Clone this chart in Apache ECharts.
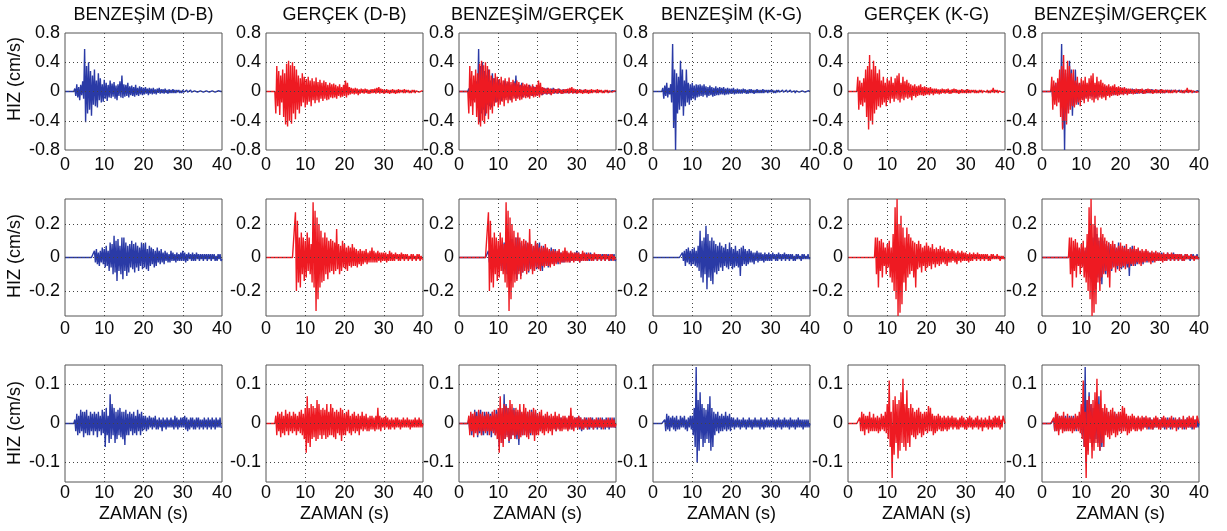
<!DOCTYPE html>
<html>
<head>
<meta charset="utf-8">
<script src="https://cdn.jsdelivr.net/npm/echarts@6/dist/echarts.min.js"></script>
<style>
  html, body { margin: 0; padding: 0; background: #fff; }
  #chart { width: 1227px; height: 531px; }
</style>
</head>
<body>
<div id="chart"></div>
<script>
// Velocity records (cm/s), one sample every 0.25 s from 0 to 40 s.
const DT = 0.25;

// Row 1
const SIM_DB_1 = [
  0,0,0,0,0,0,0,0,0,0,
  0.04,-0.06,0.1,-0.08,0.06,-0.12,0.09,-0.05,0.14,-0.1,
  0.58,-0.42,0.35,-0.3,0.4,-0.25,0.28,-0.33,0.22,-0.18,
  0.3,-0.2,0.15,-0.22,0.25,-0.12,0.18,-0.15,0.1,-0.14,
  0.16,-0.1,0.12,-0.13,0.09,-0.08,0.15,-0.09,0.11,-0.07,
  0.13,-0.1,0.08,-0.12,0.1,-0.06,0.14,-0.08,0.22,-0.09,
  0.1,-0.07,0.09,-0.06,0.12,-0.08,0.07,-0.05,0.08,-0.06,
  0.06,-0.07,0.09,-0.05,0.05,-0.06,0.07,-0.04,0.06,-0.05,
  0.05,-0.04,0.06,-0.03,0.04,-0.05,0.05,-0.03,0.04,-0.04,
  0.05,-0.03,0.03,-0.04,0.04,-0.02,0.05,-0.03,0.03,-0.02,
  0.03,-0.03,0.04,-0.02,0.02,-0.03,0.03,-0.02,0.02,-0.02,
  0.03,-0.02,0.02,-0.02,0.02,-0.01,0.02,-0.02,0.01,-0.02,
  0.02,-0.01,0.01,-0.02,0.02,-0.01,0.01,-0.01,0.02,-0.01,
  0.01,-0.02,0.01,-0.01,0.02,-0.01,0.01,-0.01,0.01,-0.01,
  0.02,-0.01,0.01,-0.02,0.01,-0.01,0.02,-0.01,0.01,-0.01,
  0.01,-0.01,0.02,-0.01,0.01,-0.01,0.01,-0.01,0.01,0,0
];
const OBS_DB_1 = [
  0,0,0,0,0,0,0,0,0,0,
  -0.3,0.35,-0.2,0.28,-0.32,0.22,-0.15,0.3,-0.35,0.25,
  -0.45,0.38,-0.48,0.42,-0.4,0.36,-0.44,0.4,-0.3,0.35,
  -0.38,0.3,-0.25,0.22,-0.3,0.18,-0.2,0.25,-0.15,0.2,
  -0.22,0.17,-0.18,0.2,-0.14,0.15,-0.2,0.18,-0.12,0.14,
  -0.16,0.19,-0.12,0.13,-0.15,0.16,-0.1,0.12,-0.13,0.15,
  -0.1,0.13,-0.12,0.09,-0.11,0.12,-0.08,0.1,-0.09,0.11,
  -0.08,0.09,-0.1,0.07,-0.06,0.1,-0.08,0.06,-0.07,0.09,
  -0.06,0.15,-0.08,0.12,-0.05,0.06,-0.04,0.05,-0.03,0.04,
  -0.04,0.05,-0.03,0.04,-0.05,0.03,-0.03,0.04,-0.02,0.03,
  -0.03,0.04,-0.02,0.03,-0.03,0.02,-0.03,0.03,-0.02,0.03,
  -0.02,0.04,-0.03,0.05,-0.02,0.06,-0.03,0.04,-0.02,0.03,
  -0.03,0.02,-0.02,0.03,-0.02,0.02,-0.03,0.02,-0.02,0.03,
  -0.02,0.02,-0.03,0.02,-0.02,0.03,-0.02,0.02,-0.01,0.02,
  -0.02,0.03,-0.02,0.02,-0.01,0.02,-0.02,0.01,-0.02,0.02,
  -0.01,0.02,-0.02,0.01,-0.01,0.02,-0.01,0.01,-0.02,0.01,0
];
const SIM_KG_1 = [
  0,0,0,0,0,0,0,0,0,0,
  0.05,-0.1,0.08,-0.06,0.12,-0.08,0.05,-0.04,0.1,-0.15,
  0.65,-0.5,0.3,-0.8,0.25,-0.3,0.2,-0.25,0.42,-0.2,
  0.3,-0.33,0.15,-0.2,0.3,-0.15,0.12,-0.18,0.1,-0.12,
  0.12,-0.1,0.08,-0.12,0.1,-0.08,0.09,-0.07,0.1,-0.06,
  0.08,-0.07,0.1,-0.05,0.07,-0.08,0.06,-0.06,0.08,-0.05,
  0.06,-0.07,0.05,-0.06,0.07,-0.05,0.05,-0.05,0.06,-0.04,
  0.05,-0.04,0.06,-0.05,0.04,-0.04,0.05,-0.04,0.04,-0.03,
  0.04,-0.03,0.05,-0.04,0.03,-0.03,0.04,-0.03,0.03,-0.03,
  0.03,-0.03,0.04,-0.02,0.03,-0.03,0.02,-0.03,0.03,-0.02,
  0.03,-0.02,0.02,-0.03,0.02,-0.02,0.03,-0.02,0.02,-0.02,
  0.02,-0.02,0.03,-0.02,0.02,-0.01,0.02,-0.02,0.02,-0.01,
  0.02,-0.01,0.02,-0.02,0.01,-0.02,0.02,-0.01,0.02,-0.01,
  0.01,-0.02,0.02,-0.01,0.01,-0.01,0.02,-0.01,0.01,-0.01,
  0.02,-0.01,0.01,-0.01,0.01,-0.02,0.01,-0.01,0.01,-0.01,
  0.01,-0.01,0.01,-0.01,0.01,-0.01,0.01,-0.01,0.01,-0.01,0
];
const OBS_KG_1 = [
  0,0,0,0,0,0,0,0,0,0,
  0.2,-0.25,0.15,-0.18,0.12,-0.2,0.18,-0.15,0.3,-0.35,
  0.35,-0.52,0.5,-0.4,0.3,-0.45,0.42,-0.3,0.35,-0.25,
  0.25,-0.2,0.3,-0.22,0.15,-0.18,0.2,-0.15,0.12,-0.2,
  0.18,-0.12,0.15,-0.16,0.2,-0.1,0.12,-0.14,0.18,-0.1,
  0.22,-0.12,0.25,-0.15,0.12,-0.1,0.2,-0.12,0.14,-0.08,
  0.16,-0.1,0.12,-0.08,0.1,-0.12,0.08,-0.06,0.1,-0.08,
  0.07,-0.06,0.08,-0.05,0.1,-0.05,0.06,-0.06,0.07,-0.05,
  0.06,-0.04,0.05,-0.05,0.06,-0.03,0.04,-0.05,0.04,-0.03,
  0.04,-0.03,0.03,-0.04,0.03,-0.03,0.04,-0.02,0.03,-0.03,
  0.03,-0.02,0.04,-0.03,0.02,-0.03,0.03,-0.02,0.04,-0.02,
  0.03,-0.02,0.02,-0.03,0.02,-0.02,0.03,-0.02,0.02,-0.02,
  0.02,-0.02,0.03,-0.02,0.02,-0.02,0.02,-0.01,0.02,-0.02,
  0.02,-0.02,0.01,-0.02,0.02,-0.01,0.02,-0.02,0.01,-0.01,
  0.02,-0.01,0.02,-0.02,0.01,-0.02,0.02,-0.01,0.05,-0.02,
  0.02,-0.01,0.02,-0.02,0.01,-0.01,0.02,-0.01,0.01,-0.01,0
];

// Row 2
const SIM_DB_2 = [
  0,0,0,0,0,0,0,0,0,0,
  0,0,0,0,0,0,0,0,0,0,
  0,0,0,0,0,0,0,0,0,0,
  0.04,-0.03,0.05,-0.04,0.03,-0.05,0.04,-0.03,0.06,-0.04,
  0.05,-0.06,0.07,-0.05,0.04,-0.08,0.09,-0.06,0.08,-0.1,
  0.13,-0.09,0.1,-0.14,0.11,-0.08,0.07,-0.1,0.12,-0.13,
  0.12,-0.08,0.09,-0.11,0.07,-0.09,0.08,-0.06,0.1,-0.07,
  0.08,-0.09,0.09,-0.06,0.07,-0.08,0.06,-0.05,0.09,-0.07,
  0.08,-0.06,0.09,-0.07,0.05,-0.08,0.07,-0.05,0.06,-0.04,
  0.05,-0.06,0.04,-0.05,0.06,-0.03,0.04,-0.04,0.05,-0.03,
  0.03,-0.04,0.04,-0.02,0.03,-0.03,0.02,-0.03,0.04,-0.02,
  0.03,-0.02,0.02,-0.03,0.03,-0.02,0.02,-0.02,0.03,-0.02,
  0.04,-0.02,0.03,-0.03,0.02,-0.02,0.03,-0.01,0.02,-0.02,
  0.03,-0.02,0.02,-0.02,0.03,-0.01,0.02,-0.02,0.02,-0.01,
  0.02,-0.02,0.02,-0.01,0.02,-0.02,0.02,-0.01,0.02,-0.02,
  0.02,-0.01,0.02,-0.02,0.01,-0.02,0.02,-0.01,0.02,-0.02,-0.01
];
const OBS_DB_2 = [
  0,0,0,0,0,0,0,0,0,0,
  0,0,0,0,0,0,0,0,0,0,
  0,0,0,0,0,0,0,0,0,0,
  0.27,-0.2,0.22,-0.15,0.12,-0.18,0.15,-0.1,0.12,-0.14,
  0.1,-0.12,0.15,-0.08,0.12,-0.1,0.08,-0.15,0.33,-0.18,
  0.28,-0.32,0.24,-0.25,0.2,-0.18,0.16,-0.15,0.12,-0.14,
  0.15,-0.1,0.12,-0.13,0.1,-0.09,0.11,-0.08,0.1,-0.1,
  0.09,-0.08,0.17,-0.07,0.08,-0.1,0.07,-0.08,0.1,-0.06,
  0.08,-0.07,0.06,-0.08,0.07,-0.05,0.06,-0.06,0.08,-0.05,
  0.06,-0.05,0.05,-0.06,0.04,-0.04,0.05,-0.05,0.04,-0.04,
  0.04,-0.03,0.05,-0.04,0.03,-0.03,0.04,-0.03,0.06,-0.03,
  0.04,-0.03,0.03,-0.03,0.04,-0.02,0.03,-0.03,0.03,-0.02,
  0.03,-0.02,0.03,-0.03,0.02,-0.02,0.04,-0.02,0.03,-0.02,
  0.02,-0.02,0.03,-0.01,0.02,-0.02,0.02,-0.02,0.03,-0.01,
  0.02,-0.02,0.02,-0.01,0.02,-0.02,0.01,-0.01,0.02,-0.02,
  0.02,-0.01,0.01,-0.02,0.02,-0.01,0.02,-0.02,0.01,-0.01,-0.01
];
const SIM_KG_2 = [
  0,0,0,0,0,0,0,0,0,0,
  0,0,0,0,0,0,0,0,0,0,
  0,0,0,0,0,0,0,0,0,0,
  0.03,-0.02,0.04,-0.05,0.05,-0.03,0.06,-0.04,0.04,-0.05,
  0.05,-0.04,0.06,-0.05,0.04,-0.06,0.07,-0.08,0.16,-0.12,
  0.1,-0.15,0.12,-0.1,0.19,-0.19,0.14,-0.12,0.1,-0.14,
  0.12,-0.16,0.1,-0.09,0.08,-0.1,0.07,-0.08,0.09,-0.06,
  0.07,-0.08,0.06,-0.05,0.08,-0.06,0.05,-0.07,0.09,-0.05,
  0.06,-0.07,0.05,-0.06,0.07,-0.05,0.04,-0.06,0.05,-0.11,
  0.06,-0.05,0.07,-0.04,0.05,-0.05,0.04,-0.04,0.05,-0.03,
  0.04,-0.03,0.03,-0.04,0.03,-0.02,0.04,-0.03,0.03,-0.02,
  0.03,-0.02,0.02,-0.03,0.03,-0.02,0.02,-0.02,0.03,-0.02,
  0.02,-0.02,0.03,-0.01,0.02,-0.02,0.02,-0.02,0.03,-0.01,
  0.02,-0.02,0.02,-0.01,0.03,-0.02,0.02,-0.01,0.02,-0.02,
  0.02,-0.01,0.02,-0.02,0.01,-0.02,0.02,-0.01,0.02,-0.01,
  0.01,-0.02,0.02,-0.01,0.02,-0.01,0.01,-0.01,0.02,-0.01,0
];
const OBS_KG_2 = [
  0,0,0,0,0,0,0,0,0,0,
  0,0,0,0,0,0,0,0,0,0,
  0,0,0,0,0,0,0,0,0.12,-0.1,
  0.12,-0.18,0.1,-0.08,0.11,-0.12,0.09,-0.05,0.06,-0.1,
  0.08,-0.06,0.1,-0.12,0.06,-0.15,0.14,-0.2,0.3,-0.25,
  0.35,-0.35,0.2,-0.33,0.25,-0.28,0.18,-0.15,0.12,-0.2,
  0.18,-0.12,0.14,-0.1,0.12,-0.08,0.1,-0.12,0.09,-0.18,
  0.08,-0.07,0.1,-0.06,0.08,-0.09,0.06,-0.05,0.07,-0.08,
  0.09,-0.06,0.07,-0.05,0.06,-0.07,0.08,-0.04,0.05,-0.06,
  0.06,-0.04,0.05,-0.05,0.07,-0.04,0.05,-0.03,0.06,-0.04,
  0.04,-0.05,0.05,-0.03,0.04,-0.03,0.05,-0.02,0.04,-0.03,
  0.03,-0.04,0.04,-0.02,0.03,-0.03,0.04,-0.02,0.03,-0.02,
  0.03,-0.02,0.02,-0.03,0.03,-0.02,0.02,-0.02,0.03,-0.01,
  0.02,-0.02,0.03,-0.01,0.02,-0.02,0.02,-0.01,0.02,-0.02,
  0.02,-0.01,0.02,-0.02,0.01,-0.02,0.02,-0.01,0.02,-0.01,
  0.01,-0.01,0.02,-0.01,0.01,-0.02,0.01,-0.01,0.01,-0.01,0
];

// Row 3
const SIM_DB_3 = [
  0,0,0,0,0,0,0,0,0,0,
  0.01,-0.02,0.025,-0.03,0.02,-0.025,0.035,-0.02,0.03,-0.035,
  0.03,-0.025,0.035,-0.03,0.02,-0.03,0.03,-0.02,0.025,-0.03,
  0.03,-0.02,0.025,-0.035,0.03,-0.02,0.02,-0.03,0.035,-0.025,
  0.03,-0.06,0.04,-0.03,0.02,-0.05,0.075,-0.04,0.05,-0.03,
  0.04,-0.05,0.03,-0.04,0.035,-0.03,0.04,-0.035,0.03,-0.04,
  0.03,-0.055,0.035,-0.03,0.025,-0.03,0.03,-0.02,0.025,-0.03,
  0.03,-0.025,0.02,-0.03,0.035,-0.02,0.025,-0.03,0.03,-0.02,
  0.02,-0.015,0.02,-0.02,0.015,-0.015,0.02,-0.01,0.015,-0.015,
  0.015,-0.01,0.02,-0.015,0.01,-0.015,0.015,-0.01,0.01,-0.02,
  0.015,-0.01,0.01,-0.015,0.015,-0.01,0.01,-0.01,0.015,-0.01,
  0.01,-0.015,0.02,-0.01,0.015,-0.015,0.01,-0.01,0.015,-0.01,
  0.015,-0.01,0.02,-0.015,0.015,-0.02,0.01,-0.015,0.015,-0.01,
  0.015,-0.015,0.01,-0.015,0.015,-0.01,0.015,-0.015,0.01,-0.01,
  0.01,-0.015,0.015,-0.01,0.01,-0.015,0.015,-0.01,0.01,-0.015,
  0.015,-0.01,0.01,-0.015,0.015,-0.01,0.01,-0.01,0.015,-0.01,-0.01
];
const OBS_DB_3 = [
  0,0,0,0,0,0,0,0,0,0,
  0.02,-0.03,0.03,-0.02,0.025,-0.035,0.03,-0.025,0.02,-0.03,
  0.035,-0.02,0.025,-0.03,0.03,-0.02,0.02,-0.025,0.03,-0.02,
  0.025,-0.03,0.02,-0.02,0.03,-0.025,0.035,-0.03,0.025,-0.04,
  0.04,-0.075,0.07,-0.05,0.04,-0.06,0.05,-0.04,0.045,-0.035,
  0.04,-0.045,0.06,-0.04,0.05,-0.03,0.035,-0.04,0.04,-0.03,
  0.035,-0.04,0.05,-0.035,0.03,-0.03,0.05,-0.03,0.04,-0.035,
  0.03,-0.04,0.035,-0.025,0.03,-0.03,0.04,-0.045,0.035,-0.03,
  0.025,-0.03,0.03,-0.02,0.035,-0.025,0.02,-0.03,0.025,-0.02,
  0.03,-0.025,0.02,-0.02,0.025,-0.03,0.02,-0.015,0.03,-0.02,
  0.02,-0.015,0.025,-0.02,0.015,-0.02,0.02,-0.015,0.02,-0.015,
  0.015,-0.02,0.02,-0.015,0.04,-0.015,0.02,-0.02,0.015,-0.01,
  0.015,-0.015,0.02,-0.01,0.015,-0.015,0.01,-0.015,0.015,-0.01,
  0.01,-0.015,0.015,-0.01,0.015,-0.01,0.01,-0.015,0.01,-0.01,
  0.015,-0.01,0.01,-0.01,0.015,-0.01,0.01,-0.015,0.01,-0.01,
  0.01,-0.01,0.015,-0.01,0.01,-0.01,0.015,-0.01,0.01,-0.01,0
];
const SIM_KG_3 = [
  0,0,0,0,0,0,0,0,0,0,
  0,0,0.01,-0.02,0.025,-0.015,0.02,-0.02,0.015,-0.01,
  0.02,-0.015,0.015,-0.02,0.02,-0.015,0.01,-0.015,0.02,-0.01,
  0.015,-0.01,0.02,-0.015,0.01,-0.02,0.015,-0.01,0.02,-0.015,
  0.02,-0.03,0.04,-0.06,0.145,-0.1,0.06,-0.07,0.08,-0.04,
  0.05,-0.06,0.04,-0.05,0.035,-0.04,0.05,-0.05,0.07,-0.07,
  0.04,-0.06,0.03,-0.03,0.025,-0.02,0.03,-0.025,0.02,-0.02,
  0.025,-0.02,0.02,-0.015,0.03,-0.02,0.02,-0.015,0.025,-0.02,
  0.015,-0.01,0.015,-0.015,0.01,-0.01,0.015,-0.01,0.01,-0.015,
  0.01,-0.01,0.015,-0.01,0.01,-0.015,0.01,-0.01,0.015,-0.01,
  0.01,-0.015,0.01,-0.01,0.015,-0.01,0.01,-0.01,0.01,-0.015,
  0.015,-0.01,0.01,-0.015,0.01,-0.01,0.015,-0.01,0.01,-0.01,
  0.01,-0.01,0.015,-0.01,0.01,-0.015,0.01,-0.01,0.015,-0.01,
  0.01,-0.015,0.01,-0.01,0.015,-0.01,0.01,-0.01,0.01,-0.015,
  0.015,-0.01,0.01,-0.01,0.01,-0.015,0.01,-0.01,0.015,-0.01,
  0.01,-0.01,0.01,-0.015,0.01,-0.01,0.01,-0.01,0.01,-0.01,0
];
const OBS_KG_3 = [
  0,0,0,0,0,0,0,0,0,0,
  0,0,0.015,-0.02,0.03,-0.02,0.025,-0.03,0.02,-0.015,
  0.02,-0.025,0.03,-0.02,0.015,-0.02,0.025,-0.02,0.015,-0.02,
  0.02,-0.025,0.015,-0.02,0.025,-0.015,0.02,-0.02,0.03,-0.025,
  0.05,-0.04,0.11,-0.06,0.03,-0.14,0.06,-0.08,0.07,-0.05,
  0.05,-0.09,0.06,-0.07,0.08,-0.05,0.115,-0.06,0.05,-0.07,
  0.085,-0.05,0.04,-0.06,0.05,-0.03,0.04,-0.035,0.03,-0.04,
  0.035,-0.03,0.04,-0.025,0.03,-0.035,0.025,-0.03,0.03,-0.02,
  0.03,-0.025,0.045,-0.02,0.04,-0.02,0.025,-0.03,0.02,-0.025,
  0.02,-0.02,0.025,-0.015,0.02,-0.02,0.015,-0.02,0.02,-0.015,
  0.015,-0.02,0.02,-0.015,0.015,-0.01,0.02,-0.015,0.015,-0.01,
  0.015,-0.015,0.01,-0.015,0.015,-0.01,0.02,-0.01,0.015,-0.015,
  0.01,-0.015,0.015,-0.01,0.02,-0.01,0.015,-0.015,0.01,-0.01,
  0.015,-0.01,0.02,-0.015,0.01,-0.01,0.015,-0.02,0.01,-0.01,
  0.015,-0.01,0.01,-0.015,0.02,-0.01,0.01,-0.015,0.015,-0.01,
  0.02,-0.01,0.015,-0.01,0.02,-0.015,0.01,-0.01,0.02,0.015,0
];

// Panel headings and axis captions
const COLUMN_TITLES = ['BENZEŞİM (D-B)', 'GERÇEK (D-B)', 'BENZEŞİM/GERÇEK', 'BENZEŞİM (K-G)', 'GERÇEK (K-G)', 'BENZEŞİM/GERÇEK'];
const Y_NAME = 'HIZ (cm/s)';
const X_NAME = 'ZAMAN (s)';

// Axis ranges and tick labels per row
const X_TICKS = [0, 10, 20, 30, 40];
const Y_LIMITS = [[-0.8, 0.8], [-0.35, 0.35], [-0.15, 0.15]];
const Y_TICKS = [[-0.8, -0.4, 0, 0.4, 0.8], [-0.2, 0, 0.2], [-0.1, 0, 0.1]];
const Y_STEP = [0.4, 0.05, 0.05];

const SIM = [[SIM_DB_1, SIM_KG_1], [SIM_DB_2, SIM_KG_2], [SIM_DB_3, SIM_KG_3]];
const OBS = [[OBS_DB_1, OBS_KG_1], [OBS_DB_2, OBS_KG_2], [OBS_DB_3, OBS_KG_3]];

const BLUE = '#2a3aa6';
const RED = '#ee1a22';
const INK = '#0a0a0a';
const FRAME = '#555';
const DOTS = '#444';
const FONT = '"Liberation Sans", Arial, sans-serif';
const FS = 18;

const LEFTS = [65, 266, 459, 653, 848, 1042];
const TOPS = [33, 199, 365];
const W = 157, H = 117;
const X_LABEL_MARGIN = [6, 4, 2];

const toPoints = vals => vals.map((v, i) => [i * DT, v]);

const grids = [], xAxes = [], yAxes = [], series = [], graphics = [];

for (let r = 0; r < 3; r++) {
  for (let c = 0; c < 6; c++) {
    const gi = r * 6 + c;
    const comp = c < 3 ? 0 : 1;
    const kind = c % 3; // 0: simulated, 1: observed, 2: both
    const [ymin, ymax] = Y_LIMITS[r];
    const ticks = Y_TICKS[r];

    grids.push({
      left: LEFTS[c], top: TOPS[r], width: W, height: H,
      show: true, borderColor: FRAME, borderWidth: 1, backgroundColor: '#fff'
    });
    xAxes.push({
      gridIndex: gi, type: 'value', min: X_TICKS[0], max: X_TICKS[X_TICKS.length - 1], interval: 10,
      axisLine: { show: false }, axisTick: { show: false },
      splitLine: {
        show: true, showMinLine: false, showMaxLine: false,
        lineStyle: { color: DOTS, width: 1, type: [1, 3] }
      },
      axisLabel: {
        fontSize: FS, color: INK, fontFamily: FONT, margin: X_LABEL_MARGIN[r],
        showMinLabel: true, showMaxLabel: true
      }
    });
    yAxes.push({
      gridIndex: gi, type: 'value', min: ymin, max: ymax, interval: Y_STEP[r],
      axisLine: { show: false }, axisTick: { show: false }, splitLine: { show: false },
      axisLabel: {
        fontSize: FS, color: INK, fontFamily: FONT, margin: 5,
        showMinLabel: true, showMaxLabel: true,
        formatter: v => {
          const t = ticks.find(k => Math.abs(k - v) < 1e-6);
          return t === undefined ? '' : String(t);
        }
      }
    });

    // dotted horizontal grid lines at the labelled ticks
    series.push({
      type: 'line', xAxisIndex: gi, yAxisIndex: gi, data: [], z: 1, silent: true,
      markLine: {
        silent: true, symbol: ['none', 'none'], label: { show: false }, animation: false,
        lineStyle: { color: DOTS, width: 1, type: [1, 3] },
        emphasis: { disabled: true },
        data: ticks.filter(k => k > ymin && k < ymax).map(k => ({ yAxis: k }))
      }
    });

    const traces = [];
    if (kind === 0 || kind === 2) traces.push([SIM[r][comp], BLUE]);
    if (kind === 1 || kind === 2) traces.push([OBS[r][comp], RED]);
    traces.forEach(([vals, color], k) => {
      series.push({
        type: 'line', xAxisIndex: gi, yAxisIndex: gi, data: toPoints(vals),
        showSymbol: false, symbol: 'none', sampling: null, z: 2 + k,
        lineStyle: { color, width: 1.4 }, itemStyle: { color },
        silent: true, animation: false
      });
    });
  }
}

const textStyle = t => ({
  text: t, font: FS + 'px ' + FONT, fill: INK, textAlign: 'center', textVerticalAlign: 'middle'
});

// column headings
COLUMN_TITLES.forEach((t, c) => {
  graphics.push({ type: 'text', x: LEFTS[c] + W / 2, y: 15, style: textStyle(t) });
});
// vertical axis captions
[79, 256, 423].forEach(cy => {
  graphics.push({ type: 'text', x: 15, y: cy, rotation: Math.PI / 2, style: textStyle(Y_NAME) });
});
// horizontal axis captions on the bottom row
LEFTS.forEach(l => {
  graphics.push({ type: 'text', x: l + W / 2, y: 514, style: textStyle(X_NAME) });
});

const chart = echarts.init(document.getElementById('chart'), null, { renderer: 'canvas' });
chart.setOption({
  backgroundColor: '#fff',
  animation: false,
  grid: grids,
  xAxis: xAxes,
  yAxis: yAxes,
  series: series,
  graphic: graphics
});
</script>
</body>
</html>
